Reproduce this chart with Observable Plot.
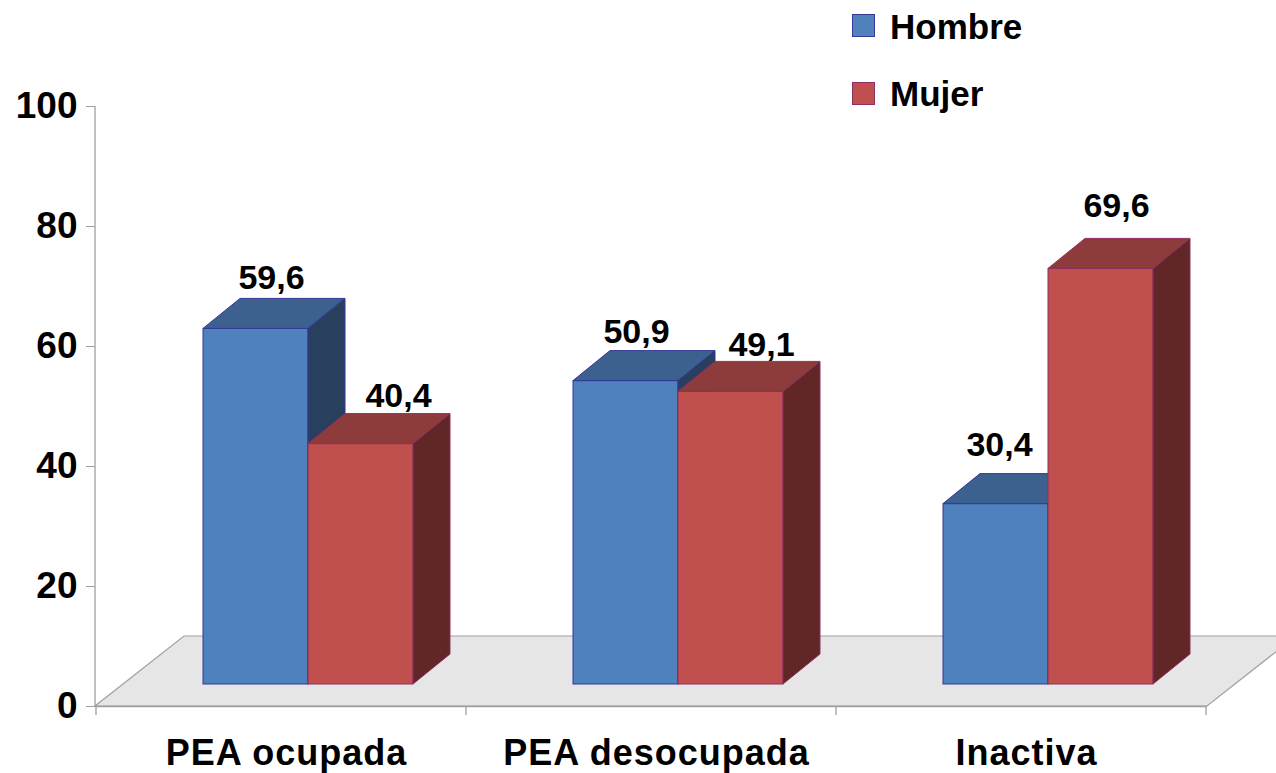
<!DOCTYPE html>
<html><head><meta charset="utf-8">
<script src="https://cdn.jsdelivr.net/npm/d3@7"></script>
<script src="https://cdn.jsdelivr.net/npm/@observablehq/plot@0.6"></script>
<style>
html,body{margin:0;padding:0;background:#fff;overflow:hidden}
#wrap{position:relative;width:1276px;height:773px;font-family:"Liberation Sans",Arial,sans-serif}
#wrap svg{position:absolute;left:0;top:0}
.lg-sw{position:absolute;box-sizing:border-box;width:23px;height:23px;border:1px solid}
.lg-tx{position:absolute;font-size:35px;font-weight:bold;line-height:35px;color:#000;white-space:nowrap}
</style></head><body><div id="wrap"></div>
<script>
// ---- data ----
const categories = ["PEA ocupada", "PEA desocupada", "Inactiva"];
const seriesNames = ["Hombre", "Mujer"];
const hombre = [59.6, 50.9, 30.4];
const mujer = [40.4, 49.1, 69.6];
const yTicks = [0, 20, 40, 60, 80, 100];

// ---- styles ----
const FONT = '"Liberation Sans", Arial, sans-serif';
const AXIS = "#a0a0a0";
const FLOOR_FILL = "#e6e6e6";
const LIFT = 20;          // front plane of bars above axis baseline (px)
const BASE_LIFT = 22;
const DEPTH = [37, -30];  // bar depth offset
const FLOOR_DEPTH = [89, -70];
const style = {
  Hombre: {front: "#4F81BD", top: "#3C618F", side: "#283F5E", stroke: "#35379A", insetLeft: 107, insetRight: 158,
           labelDx: [-10, -15, -22], labelDy: [-60, -58, -68]},
  Mujer:  {front: "#C0504D", top: "#8E3B3B", side: "#612727", stroke: "#8E2F63", insetLeft: 212, insetRight: 53,
           labelDx: [117, 110, 95], labelDy: [-57, -56, -72]}
};

const fmt = v => d3.format(".1f")(v).replace(".", ",");
const seriesData = {
  Hombre: categories.map((c, i) => ({category: c, series: "Hombre", value: hombre[i]})),
  Mujer: categories.map((c, i) => ({category: c, series: "Mujer", value: mujer[i]}))
};

function bw(scales, dim) {
  return scales.x.bandwidth ? scales.x.bandwidth() : (dim.width - dim.marginLeft - dim.marginRight) / categories.length;
}

// floor
function floorMark(index, scales, values, dim) {
  const g = d3.create("svg:g");
  const x0 = dim.marginLeft, x1 = dim.width - dim.marginRight, y0 = scales.y(0);
  const [fx, fy] = FLOOR_DEPTH;
  g.append("path")
    .attr("d", `M${x0},${y0}L${x1},${y0}L${x1 + fx},${y0 + fy}L${x0 + fx},${y0 + fy}Z`)
    .attr("fill", FLOOR_FILL).attr("stroke", AXIS).attr("stroke-width", 1.2);
  return g.node();
}
// vertical axis line + ticks at category boundaries
function axisLines(index, scales, values, dim) {
  const g = d3.create("svg:g").attr("stroke", AXIS).attr("stroke-width", 1.3);
  const x0 = dim.marginLeft, y0 = scales.y(0), yTop = scales.y(100);
  g.append("line").attr("x1", x0).attr("x2", x0).attr("y1", yTop).attr("y2", y0);
  const w = bw(scales, dim);
  const bounds = categories.map(c => scales.x(c)).concat([scales.x(categories[categories.length - 1]) + w]);
  for (const b of bounds) g.append("line").attr("x1", b).attr("x2", b).attr("y1", y0).attr("y2", y0 + 9);
  return g.node();
}
// top and side faces of the 3D bars
function faces(name) {
  const s = style[name], data = seriesData[name];
  return (index, scales, values, dim) => {
    const g = d3.create("svg:g").attr("stroke", s.stroke).attr("stroke-width", 1).attr("stroke-linejoin", "round");
    const w = bw(scales, dim);
    const [dx, dy] = DEPTH;
    const yb = scales.y(0) - BASE_LIFT;
    for (const d of data) {
      const x1 = scales.x(d.category) + s.insetLeft, x2 = scales.x(d.category) + w - s.insetRight;
      const yt = scales.y(d.value) - LIFT;
      g.append("path").attr("fill", s.top)
        .attr("d", `M${x1},${yt}L${x2},${yt}L${x2 + dx},${yt + dy}L${x1 + dx},${yt + dy}Z`);
      g.append("path").attr("fill", s.side)
        .attr("d", `M${x2},${yt}L${x2 + dx},${yt + dy}L${x2 + dx},${yb + dy}L${x2},${yb}Z`);
    }
    return g.node();
  };
}

const marks = [floorMark, Plot.ruleY([0], {stroke: AXIS, strokeWidth: 1.3}), axisLines,
  Plot.axisY({ticks: yTicks, tickSize: 9, tickPadding: 9, stroke: AXIS, fill: "#000", fontSize: 37, fontWeight: "bold", label: null}),
  Plot.axisX({tickSize: 0, tickPadding: 33, fill: "#000", fontSize: 36, fontWeight: "bold", label: null, dx: 5})
];
for (const name of seriesNames) {
  const s = style[name];
  marks.push(Plot.barY(seriesData[name], {x: "category", y: "value", fill: s.front, stroke: s.stroke, strokeWidth: 1,
    insetLeft: s.insetLeft, insetRight: s.insetRight, insetBottom: BASE_LIFT - LIFT, dy: -LIFT}));
  marks.push(faces(name));
}
for (const name of seriesNames) {
  const s = style[name];
  seriesData[name].forEach((d, i) => {
    marks.push(Plot.text([d], {x: "category", y: "value", text: r => fmt(r.value), lineAnchor: "bottom",
      dx: s.labelDx[i], dy: s.labelDy[i], fontSize: 34, fontWeight: "bold", fill: "#000"}));
  });
}

const plot = Plot.plot({
  width: 1276, height: 773,
  marginLeft: 95, marginRight: 69, marginTop: 106, marginBottom: 67,
  style: {fontFamily: FONT, color: "#000", background: "transparent", overflow: "visible"},
  x: {domain: categories, padding: 0, label: null, axis: null},
  y: {domain: [0, 100], label: null, axis: null},
  marks
});
plot.querySelectorAll('[aria-label="x-axis tick label"] text').forEach(t => t.style.letterSpacing = "1px");
const wrap = document.getElementById("wrap");
wrap.appendChild(plot);

// legend
const legendTops = {Hombre: [14, 9], Mujer: [82, 76]};
for (const name of seriesNames) {
  const sw = document.createElement("div");
  sw.className = "lg-sw";
  sw.style.left = "852px"; sw.style.top = legendTops[name][0] + "px";
  sw.style.background = style[name].front; sw.style.borderColor = style[name].stroke;
  const tx = document.createElement("div");
  tx.className = "lg-tx";
  tx.style.left = "890px"; tx.style.top = legendTops[name][1] + "px";
  tx.textContent = name;
  wrap.appendChild(sw); wrap.appendChild(tx);
}
</script></body></html>
